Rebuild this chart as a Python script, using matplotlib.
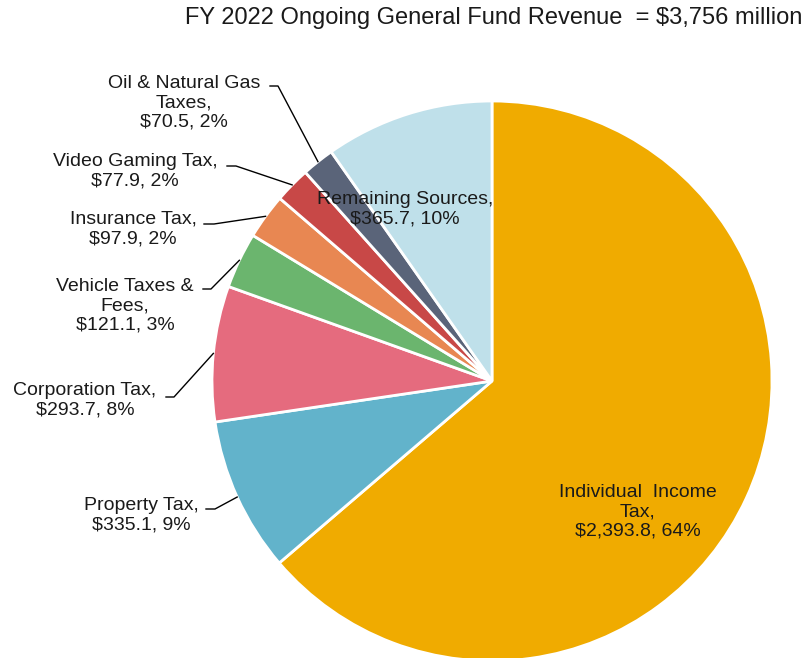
import matplotlib.pyplot as plt
import numpy as np

plt.rcParams['font.family'] = ['Liberation Sans', 'DejaVu Sans']

# FY 2022 ongoing general fund revenue, $ millions
sources = ['Individual  Income\nTax,', 'Property Tax,', 'Corporation Tax,',
           'Vehicle Taxes &\nFees,', 'Insurance Tax,', 'Video Gaming Tax,',
           'Oil & Natural Gas\nTaxes,', 'Remaining Sources,']
amounts = [2393.8, 335.1, 293.7, 121.1, 97.9, 77.9, 70.5, 365.7]
pcts = [64, 9, 8, 3, 2, 2, 2, 10]
colors = ['#F0AB00', '#62B3CB', '#E56B7E', '#6BB56E', '#E88752', '#C84847',
          '#5A6479', '#BFE0EA']

W, H = 806, 658
cx, cy, R = 492, 381, 280

fig = plt.figure(figsize=(W / 100, H / 100), dpi=100)
ax = fig.add_axes([(cx - R) / W, (H - cy - R) / H, 2 * R / W, 2 * R / H])

wedges, _ = ax.pie(amounts, colors=colors, startangle=90, counterclock=False,
                   radius=1, wedgeprops=dict(edgecolor='white', linewidth=2))
ax.set_xlim(-1, 1)
ax.set_ylim(-1, 1)
ax.set_aspect('equal')
ax.axis('off')


def px(x, y):
    return (x - cx) / R, (cy - y) / R


# label centres (pixels) and leader elbows (pixels) - None means inside the pie
label_pos = [(638, 512), (141, 515), (85, 400), (125, 306), (133, 229),
             (135, 171), (184, 103), (405, 209)]
elbows = [None, ((206, 509), (215, 509)), ((166, 397), (174, 397)),
          ((203, 289), (211, 289)), ((204, 224), (214, 224)),
          ((227, 166), (236, 166)), ((270, 86), (278, 86)), None]

for i, w in enumerate(wedges):
    txt = f'{sources[i]}\n${amounts[i]:,.1f}, {pcts[i]}%'
    lx, ly = px(*label_pos[i])
    ax.text(lx, ly, txt, ha='center', va='center', fontsize=14,
            linespacing=1.17, color='#1a1a1a')
    if elbows[i] is not None:
        mid = np.deg2rad((w.theta1 + w.theta2) / 2)
        (x0, y0), (x1, y1) = elbows[i]
        a = px(x0, y0)
        b = px(x1, y1)
        ax.plot([a[0], b[0], np.cos(mid)], [a[1], b[1], np.sin(mid)],
                color='black', lw=1, clip_on=False)

fig.text(802 / W, 1 - 18 / H, 'FY 2022 Ongoing General Fund Revenue  = $3,756 million',
         ha='right', va='center', fontsize=17, color='#1a1a1a')

fig.savefig('out.png', dpi=100)
